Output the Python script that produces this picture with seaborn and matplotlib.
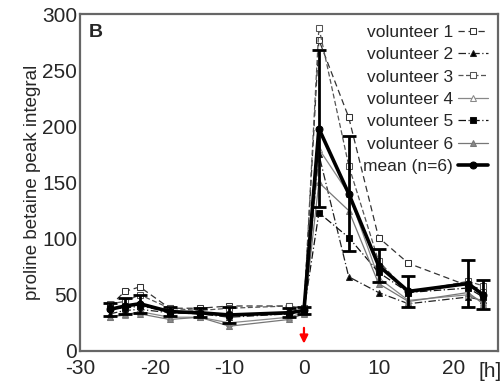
import numpy as np
import pandas as pd
import seaborn as sns
import matplotlib.pyplot as plt

# time points [h] relative to intake
hours = [-26, -24, -22, -18, -14, -10, -2, 0, 2, 6, 10, 14, 22, 24]

vol1 = [40, 53, 57, 38, 38, 40, 40, 38, 277, 208, 101, 78, 58, 55]
vol2 = [33, 36, 37, 34, 33, 30, 33, 36, 175, 66, 52, 42, 48, 45]
vol3 = [42, 44, 50, 38, 36, 38, 40, 38, 288, 165, 80, 52, 62, 58]
vol4 = [30, 32, 35, 30, 30, 25, 30, 34, 180, 140, 65, 45, 50, 44]
vol5 = [38, 38, 40, 35, 33, 32, 33, 36, 123, 101, 70, 52, 56, 48]
vol6 = [30, 33, 33, 28, 30, 22, 28, 33, 150, 125, 60, 44, 52, 42]

mean_vals = [37, 40, 42, 35, 34, 32, 34, 36, 198, 140, 76, 53, 60, 50]
sd_vals = [6, 7, 8, 4, 4, 7, 4, 3, 70, 51, 15, 14, 21, 13]

labels = ["volunteer 1", "volunteer 2", "volunteer 3", "volunteer 4",
          "volunteer 5", "volunteer 6"]
series = [vol1, vol2, vol3, vol4, vol5, vol6]

# line style, marker, marker face, colour
styles = [
    ((0, (5, 3)), "s", "white", "#333333"),
    ((0, (6, 2, 1, 2)), "^", "black", "#222222"),
    ((0, (4, 2)), "s", "white", "#555555"),
    ("-", "^", "white", "#888888"),
    ((0, (6, 2, 1, 2)), "s", "black", "#111111"),
    ("-", "^", "#888888", "#777777"),
]

sns.set_style("white")
plt.rcParams["font.family"] = ["Liberation Sans", "DejaVu Sans"]
plt.rcParams["axes.unicode_minus"] = False

fig = plt.figure(figsize=(5.04, 3.81), dpi=100)
ax = fig.add_axes([0.159, 0.079, 0.829, 0.884])

for lab, vals, (ls, mk, fc, col) in zip(labels, series, styles):
    df = pd.DataFrame({"h": hours, "v": vals})
    sns.lineplot(data=df, x="h", y="v", ax=ax, color=col, linewidth=0.9,
                 linestyle=ls, marker=mk, markersize=5, markerfacecolor=fc,
                 markeredgecolor=col, label=lab)

mdf = pd.DataFrame({"h": hours, "v": mean_vals, "sd": sd_vals})
ax.errorbar(mdf["h"], mdf["v"], yerr=mdf["sd"], fmt="none", ecolor="black",
            elinewidth=2, capsize=5, capthick=2, zorder=4)
sns.lineplot(data=mdf, x="h", y="v", ax=ax, color="black", linewidth=2.6,
             marker="o", markersize=5, markeredgecolor="black",
             label="mean (n=6)", zorder=5)

ax.set_xlim(-30, 26)
ax.set_ylim(0, 300)
ax.set_xticks([-30, -20, -10, 0, 10, 20])
ax.set_yticks([0, 50, 100, 150, 200, 250, 300])
ax.set_xlabel("")
ax.set_ylabel("proline betaine peak integral", fontsize=13.5, labelpad=1)
ax.tick_params(axis="both", labelsize=15, direction="in", length=3,
               width=1, color="#666666")
ax.tick_params(axis="x", pad=6)
ax.tick_params(axis="y", pad=2)
for sp in ax.spines.values():
    sp.set_color("#666666")
    sp.set_linewidth(1.6)

ax.text(0.02, 0.97, "B", transform=ax.transAxes, fontsize=14,
        fontweight="bold", va="top", ha="left")
ax.text(24.9, -10, "[h]", fontsize=15, ha="center", va="top", clip_on=False)

# intake marker
ax.annotate("", xy=(0, 4), xytext=(0, 23),
            arrowprops=dict(arrowstyle="-|>", color="red", lw=1.6,
                            mutation_scale=12))

ax.legend(loc="upper right", markerfirst=False, frameon=False, fontsize=12.5,
          handlelength=1.7, handletextpad=0.3, labelspacing=0.42,
          borderaxespad=0.2)

fig.savefig("out.png", dpi=100)
